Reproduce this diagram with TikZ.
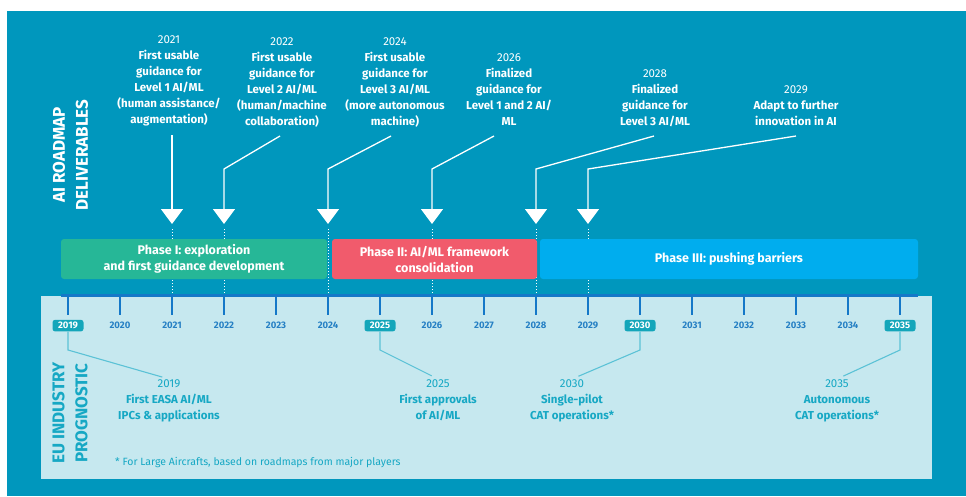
\documentclass[tikz,border=0pt]{standalone}
\usepackage{fontspec}
\setmainfont{Fira Sans}
\newcommand\heavyfont{\bfseries}
\usepackage{tikz}
\usetikzlibrary{arrows.meta,positioning}
\definecolor{roadbg}{HTML}{0097BD}
\definecolor{panel}{HTML}{C6E8EF}
\definecolor{progtext}{HTML}{16A8C4}
\definecolor{calloutline}{HTML}{5BC2D6}
\definecolor{yearblue}{HTML}{2680C4}
\definecolor{tickblue}{HTML}{1478C8}
\definecolor{hilite}{HTML}{14A6BA}
\definecolor{phaseone}{HTML}{26B797}
\definecolor{phasetwo}{HTML}{F15B6C}
\definecolor{phasethree}{HTML}{00ADEE}

\begin{document}
\begin{tikzpicture}[x=1pt,y=-1pt,>={Triangle[width=22pt,length=15pt]},
  deliv/.style={align=center,anchor=south,inner sep=0pt,text=white,font=\bfseries\fontsize{11.5}{16}\selectfont},
  prog/.style={align=center,anchor=north,inner sep=0pt,text=progtext,font=\bfseries\fontsize{11.5}{16}\selectfont},
  phase/.style={rounded corners=3pt,minimum height=40pt,inner sep=0pt,text=white,align=center,font=\bfseries\fontsize{12.5}{16}\selectfont},
  yearlbl/.style={inner sep=0pt,text=yearblue,font=\bfseries\fontsize{9.5}{11}\selectfont},
  hiyear/.style={fill=hilite,text=white,rounded corners=2.5pt,minimum width=31pt,minimum height=11.5pt,inner sep=0pt,font=\bfseries\fontsize{9.5}{11}\selectfont},
  sidelabel/.style={rotate=90,align=center,inner sep=0pt,font=\heavyfont\fontsize{17}{23}\selectfont},
  pointer/.style={white,line width=1.3pt,->},
  guide/.style={white,line width=0.9pt,dash pattern=on 1pt off 2pt},
  yeartick/.style={tickblue,line width=2pt},
  callout/.style={calloutline,line width=1.1pt,shorten >=7pt}]
  \useasboundingbox (0,0) rectangle (966,496);
  \fill[roadbg] (7,11) rectangle (966,496);
  \fill[panel] (41,296) rectangle (932,479);
  \draw[yeartick,line width=3pt] (61,295.5) -- (918,295.5);

  \coordinate (knee) at (0,169);
  \coordinate (axis) at (0,294);
  \coordinate (foot) at (0,350);

  % arrow tips on the years
  \coordinate (t21) at (172,224);
  \coordinate (t22) at (224,224);
  \coordinate (t24) at (328,224);
  \coordinate (t26) at (432,224);
  \coordinate (t28) at (536,224);
  \coordinate (t29) at (588,224);
  \foreach \t in {t21,t22,t24,t26,t28,t29}
    \draw[guide] (\t) ++(0,5) -- (\t |- axis);

  % phases
  \node[phase,fill=phaseone,minimum width=266pt]   (p1) at (194,259)   {Phase I: exploration\\and first guidance development};
  \node[phase,fill=phasetwo,minimum width=205pt]   (p2) at (434.5,259) {Phase II: AI/ML framework\\consolidation};
  \node[phase,fill=phasethree,minimum width=378pt] (p3) at (729,259)   {Phase III: pushing barriers};

  % time axis
  \foreach \i in {0,...,16}{
    \pgfmathtruncatemacro\yr{2019+\i}
    \draw[yeartick] (68+52*\i,296) -- ++(0,19) coordinate (k\yr);
    \node[yearlbl,below=7pt of k\yr] (y\yr) {\yr};
  }
  \foreach \yr in {2019,2025,2030,2035}
    \node[hiyear] (h\yr) at (y\yr) {\yr};

  % deliverables
  \node[deliv] (d21) at (169,128) {{\mdseries 2021}\\First usable\\guidance for\\Level 1 AI/ML\\(human assistance/\\augmentation)\strut};
  \node[deliv] (d22) at (282,130) {{\mdseries 2022}\\First usable\\guidance for\\Level 2 AI/ML\\(human/machine\\collaboration)\strut};
  \node[deliv] (d24) at (395,130) {{\mdseries 2024}\\First usable\\guidance for\\Level 3 AI/ML\\(more autonomous\\machine)\strut};
  \node[deliv] (d26) at (509,130) {{\mdseries 2026}\\Finalized\\guidance for\\Level 1 and 2 AI/\\ML\strut};
  \node[deliv] (d28) at (655,130) {{\mdseries 2028}\\Finalized\\guidance for\\Level 3 AI/ML\strut};
  \node[deliv] (d29) at (796,130) {{\mdseries 2029}\\Adapt to further\\innovation in AI\strut};

  \draw[pointer] ([xshift=3pt,yshift=-7pt]d21.south) -- (t21);
  \draw[pointer] ([xshift=-2pt,yshift=-6pt]d22.south) -- (t22 |- knee) -- (t22);
  \draw[pointer] ([xshift=-4pt,yshift=-6pt]d24.south) -- (t24 |- knee) -- (t24);
  \draw[pointer] ([xshift=-15pt,yshift=-6pt]d26.south) -- (t26 |- knee) -- (t26);
  \draw[pointer] ([xshift=-1pt,yshift=-6pt]d28.south) -- (t28 |- knee) -- (t28);
  \draw[pointer] ([yshift=-6pt]d29.south) -- (t29 |- knee) -- (t29);

  % industry prognostic
  \node[prog] (b19) at (169,379) {{\mdseries 2019}\\First EASA AI/ML\\IPCs \& applications};
  \node[prog] (b25) at (438,379) {{\mdseries 2025}\\First approvals\\of AI/ML};
  \node[prog] (b30) at (572,379) {{\mdseries 2030}\\Single-pilot\\CAT operations*};
  \node[prog] (b35) at (837,379) {{\mdseries 2035}\\Autonomous\\CAT operations*};

  \draw[callout] (h2019.south) -- (h2019 |- foot) -- (b19.north);
  \draw[callout] (h2025.south) -- (h2025 |- foot) -- (b25.north);
  \draw[callout] (h2030.south) -- (h2030 |- foot) -- (b30.north);
  \draw[callout] (h2035.south) -- (h2035 |- foot) -- (b35.north);

  \node[anchor=west,inner sep=0pt,text=progtext,font=\fontsize{10.5}{12}\selectfont] (note) at (115,463)
    {* For Large Aircrafts, based on roadmaps from major players};

  \node[sidelabel,text=white]    (ai) at (70.5,155) {AI ROADMAP\\DELIVERABLES};
  \node[sidelabel,text=progtext] (eu) at (70,413)   {EU INDUSTRY\\PROGNOSTIC};
\end{tikzpicture}
\end{document}
